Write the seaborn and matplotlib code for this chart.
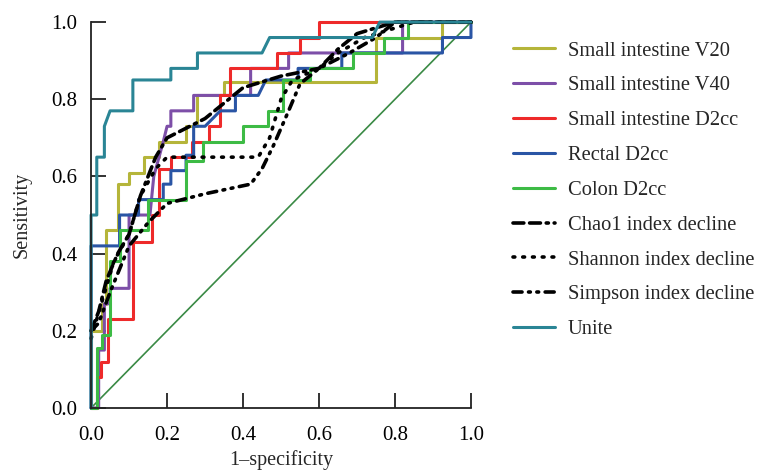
import numpy as np
import pandas as pd
import seaborn as sns
import matplotlib.pyplot as plt

# ROC curves (1-specificity, sensitivity)
v20_x = [0, 0, 0.03, 0.03, 0.04, 0.04, 0.07, 0.07, 0.1, 0.1, 0.14, 0.14, 0.18, 0.18, 0.25, 0.25,
         0.28, 0.28, 0.35, 0.35, 0.75, 0.75, 0.925, 0.925, 1]
v20_y = [0, 0.2, 0.2, 0.27, 0.27, 0.46, 0.46, 0.58, 0.58, 0.61, 0.61, 0.65, 0.65, 0.69, 0.69, 0.73,
         0.73, 0.81, 0.81, 0.845, 0.845, 0.96, 0.96, 1.0, 1.0]

v40_x = [0, 0.02, 0.02, 0.035, 0.035, 0.05, 0.05, 0.1, 0.1, 0.155, 0.165, 0.19, 0.2, 0.21, 0.21,
         0.27, 0.27, 0.42, 0.42, 0.52, 0.52, 0.82, 0.82, 1]
v40_y = [0, 0, 0.15, 0.15, 0.27, 0.27, 0.31, 0.31, 0.5, 0.5, 0.6, 0.69, 0.73, 0.73, 0.77,
         0.77, 0.81, 0.81, 0.88, 0.88, 0.92, 0.92, 1.0, 1.0]

si_d2_x = [0, 0.015, 0.015, 0.025, 0.025, 0.045, 0.045, 0.11, 0.11, 0.16, 0.16, 0.18, 0.18, 0.21,
           0.21, 0.265, 0.265, 0.31, 0.31, 0.34, 0.34, 0.365, 0.365, 0.49, 0.49, 0.55, 0.55, 0.6,
           0.6, 1]
si_d2_y = [0, 0, 0.08, 0.08, 0.12, 0.12, 0.23, 0.23, 0.43, 0.43, 0.5, 0.5, 0.62, 0.62,
           0.65, 0.65, 0.69, 0.69, 0.73, 0.73, 0.81, 0.81, 0.88, 0.88, 0.92, 0.92, 0.96, 0.96,
           1.0, 1.0]

rectal_x = [0, 0, 0.075, 0.075, 0.125, 0.125, 0.19, 0.19, 0.21, 0.21, 0.25, 0.25, 0.27, 0.27,
            0.3, 0.34, 0.38, 0.38, 0.44, 0.46, 0.545, 0.545, 0.66, 0.66, 0.925, 0.925, 1.0, 1.0]
rectal_y = [0, 0.42, 0.42, 0.5, 0.5, 0.54, 0.54, 0.58, 0.58, 0.615, 0.615, 0.655, 0.655, 0.73,
            0.73, 0.77, 0.77, 0.81, 0.81, 0.85, 0.85, 0.88, 0.88, 0.92, 0.92, 0.96, 0.96, 1.0]

colon_x = [0, 0.015, 0.015, 0.03, 0.03, 0.05, 0.05, 0.075, 0.075, 0.15, 0.15, 0.25, 0.25, 0.295,
           0.295, 0.4, 0.4, 0.465, 0.465, 0.505, 0.505, 0.575, 0.575, 0.69, 0.69, 0.77, 0.77,
           0.835, 0.835, 1]
colon_y = [0, 0, 0.155, 0.155, 0.19, 0.19, 0.38, 0.38, 0.46, 0.46, 0.54, 0.54, 0.64, 0.64,
           0.69, 0.69, 0.73, 0.73, 0.77, 0.77, 0.85, 0.85, 0.88, 0.88, 0.92, 0.92, 0.96,
           0.96, 1.0, 1.0]

chao1_x = [0, 0.02, 0.04, 0.07, 0.1, 0.13, 0.17, 0.2, 0.3, 0.35, 0.4, 0.5, 0.6, 0.65, 0.7, 0.8, 1]
chao1_y = [0.2, 0.25, 0.33, 0.4, 0.45, 0.55, 0.65, 0.7, 0.75, 0.79, 0.83, 0.86, 0.88, 0.93, 0.97, 1.0, 1.0]

shannon_x = [0, 0.03, 0.06, 0.1, 0.13, 0.17, 0.2, 0.44, 0.47, 0.5, 0.53, 0.6, 0.65, 0.72, 0.85, 1]
shannon_y = [0.18, 0.28, 0.38, 0.45, 0.55, 0.62, 0.65, 0.65, 0.7, 0.8, 0.85, 0.88, 0.92, 0.96, 1.0, 1.0]

simpson_x = [0, 0.02, 0.05, 0.1, 0.15, 0.2, 0.3, 0.42, 0.45, 0.48, 0.52, 0.55, 0.6, 0.68, 0.75, 0.8, 1]
simpson_y = [0.2, 0.22, 0.3, 0.42, 0.48, 0.53, 0.555, 0.58, 0.62, 0.68, 0.77, 0.84, 0.88, 0.92, 0.96, 1.0, 1.0]

unite_x = [0, 0, 0.015, 0.015, 0.035, 0.035, 0.05, 0.11, 0.11, 0.21, 0.21, 0.28, 0.28, 0.45,
           0.47, 0.74, 0.76, 1]
unite_y = [0, 0.5, 0.5, 0.65, 0.65, 0.73, 0.77, 0.77, 0.85, 0.85, 0.88, 0.88, 0.92, 0.92,
           0.96, 0.96, 1.0, 1.0]

ref_x = [0, 1]
ref_y = [0, 1]

series = [
    ("Small intestine V20", v20_x, v20_y, "#b5b53a", "-"),
    ("Small intestine V40", v40_x, v40_y, "#7d4fa8", "-"),
    ("Small intestine D2cc", si_d2_x, si_d2_y, "#ee2a2a", "-"),
    ("Rectal D2cc", rectal_x, rectal_y, "#2a55a5", "-"),
    ("Colon D2cc", colon_x, colon_y, "#3dbb45", "-"),
    ("Chao1 index decline", chao1_x, chao1_y, "black", (0, (3, 1.6, 3, 1.6, 0.6, 1.6))),
    ("Shannon index decline", shannon_x, shannon_y, "black", (0, (0.5, 2.2))),
    ("Simpson index decline", simpson_x, simpson_y, "black", (0, (2.5, 1.8, 0.5, 1.8, 0.5, 1.8))),
    ("Unite", unite_x, unite_y, "#2a8595", "-"),
]

sns.set_theme(style="white")
plt.rcParams['font.family'] = ['Liberation Serif', 'DejaVu Serif']

fig = plt.figure(figsize=(7.59, 4.70), dpi=100)
ax = fig.add_axes([0.12, 0.132, 0.5005, 0.821])

sns.lineplot(x=ref_x, y=ref_y, ax=ax, color="#3a8a45", linewidth=1.2, sort=False)

for name, xs, ys, color, ls in series:
    df = pd.DataFrame({"x": xs, "y": ys})
    lw = 2.2 if ls == "-" else 2.6
    sns.lineplot(data=df, x="x", y="y", ax=ax, color=color, linewidth=lw, linestyle=ls,
                 sort=False, estimator=None, label=name, clip_on=False,
                 dash_capstyle="round")

ticks = np.arange(0, 1.01, 0.2)
ax.set_xlim(0, 1)
ax.set_ylim(0, 1)
ax.set_xticks(ticks)
ax.set_yticks(ticks)
ax.set_xticklabels([f"{v:.1f}" for v in ticks])
ax.set_yticklabels([f"{v:.1f}" for v in ticks])
ax.tick_params(direction="in", length=11, width=1.3, labelsize=15, colors="#222222",
               bottom=True, left=True)
ax.tick_params(axis="x", pad=13)
ax.tick_params(axis="y", pad=10)
ax.tick_params(labelcolor="black")
sns.despine(ax=ax)
for s in ("left", "bottom"):
    ax.spines[s].set_color("#222222")
    ax.spines[s].set_linewidth(1.3)

ax.set_xlabel("1–specificity", fontsize=14.5, labelpad=4)
ax.set_ylabel("Sensitivity", fontsize=14.5, labelpad=14)

handles, labels = ax.get_legend_handles_labels()
ax.legend(handles, labels, loc="upper left", bbox_to_anchor=(0.663, 0.934),
          bbox_transform=fig.transFigure, frameon=False, fontsize=14.8,
          handlelength=2.0, handletextpad=0.65, labelspacing=0.75, borderpad=0)

fig.savefig("out.png", dpi=100)
